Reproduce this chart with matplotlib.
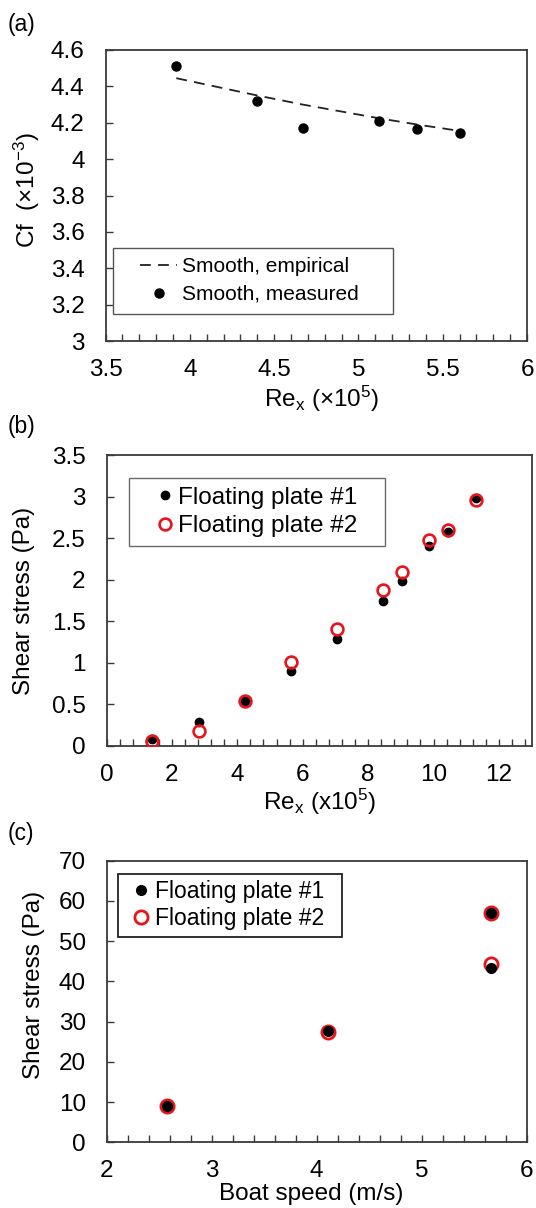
import matplotlib
matplotlib.use('Agg')
import matplotlib.pyplot as plt
from matplotlib.ticker import MultipleLocator
from matplotlib.patches import Rectangle

plt.rcParams['font.family'] = ['Liberation Sans', 'DejaVu Sans']
plt.rcParams['mathtext.fontset'] = 'custom'
plt.rcParams['mathtext.rm'] = 'Liberation Sans'
plt.rcParams['mathtext.it'] = 'Liberation Sans:italic'

# ---------------- data ----------------
# (a) skin friction coefficient vs Re_x
re_a = [3.92, 4.40, 4.67, 5.12, 5.35, 5.60]
cf_measured = [4.51, 4.32, 4.17, 4.21, 4.165, 4.145]
cf_empirical = [4.445, 4.35, 4.30, 4.225, 4.19, 4.155]

# (b) shear stress vs Re_x
re_b = [1.40, 2.82, 4.22, 5.65, 7.04, 8.46, 9.03, 9.87, 10.43, 11.29]
tau_b_plate1 = [0.077, 0.28, 0.54, 0.90, 1.29, 1.74, 1.98, 2.41, 2.57, 2.98]
tau_b_plate2 = [0.06, 0.18, 0.54, 1.01, 1.40, 1.87, 2.09, 2.48, 2.60, 2.96]

# (c) shear stress vs boat speed
boat_speed = [2.57, 4.11, 5.66, 5.66]
tau_c_plate1 = [9.0, 27.6, 57.1, 43.4]
tau_c_plate2 = [9.0, 27.5, 57.0, 44.4]

W, H = 536, 1208
fig = plt.figure(figsize=(W / 100, H / 100), dpi=100)

FS = 17.5
SPINE = '#3a3a3a'
RED = '#e8141c'


def fx(px):
    return px / W


def fy(py):
    return 1 - py / H


def box(l, t, r, b):
    return [l / W, 1 - b / H, (r - l) / W, (b - t) / H]


def style(ax, xmaj, xmin, ymaj):
    ax.xaxis.set_major_locator(MultipleLocator(xmaj))
    ax.xaxis.set_minor_locator(MultipleLocator(xmin))
    ax.yaxis.set_major_locator(MultipleLocator(ymaj))
    ax.tick_params(axis='x', which='both', direction='in', length=5, width=1,
                   color=SPINE, labelsize=FS, pad=13, top=False)
    ax.tick_params(axis='y', which='major', direction='in', length=5, width=1,
                   color=SPINE, labelsize=FS, pad=15, right=False)
    ax.tick_params(axis='y', which='minor', left=False)
    for s in ax.spines.values():
        s.set_color(SPINE)
        s.set_linewidth(1.3)


def frame(ax, l, t, r, b, color, lw):
    ax.add_patch(Rectangle((fx(l), fy(b)), (r - l) / W, (b - t) / H,
                           transform=fig.transFigure, fill=True,
                           facecolor='white', edgecolor=color, lw=lw,
                           zorder=5, clip_on=False))


# ---------------- (a) ----------------
ax1 = fig.add_axes(box(105.5, 50, 527, 341))
ax1.plot(re_a, cf_empirical, ls=(0, (6, 4)), color='#222222', lw=1.3,
         label='Smooth, empirical')
ax1.plot(re_a, cf_measured, 'o', color='black', ms=6.5, ls='none',
         label='Smooth, measured')
ax1.set_xlim(3.5, 6)
ax1.set_ylim(3, 4.6)
style(ax1, 0.5, 0.1, 0.2)
ax1.set_xticks([3.5, 4, 4.5, 5, 5.5, 6])
ax1.set_xticklabels(['3.5', '4', '4.5', '5', '5.5', '6'])
ax1.set_yticks([3, 3.2, 3.4, 3.6, 3.8, 4, 4.2, 4.4, 4.6])
ax1.set_yticklabels(['3', '3.2', '3.4', '3.6', '3.8', '4', '4.2', '4.4', '4.6'])
fig.text(fx(322), fy(407), 'Re$_\\mathregular{x}$ (×10$^\\mathregular{5}$)',
         fontsize=FS, ha='center', va='baseline')
fig.text(fx(27), fy(190), 'Cf  (×10$^\\mathregular{-3}$)', fontsize=FS,
         rotation=90, ha='center', va='center')
frame(ax1, 113.4, 248.3, 393.3, 314, '#555555', 1.0)
leg1 = ax1.legend(loc='center left', bbox_to_anchor=(fx(140), fy(280.5)),
                  bbox_transform=fig.transFigure, fontsize=15, frameon=False,
                  handlelength=1.78, handletextpad=0.24, labelspacing=0.42,
                  borderpad=0, borderaxespad=0)
leg1.set_zorder(6)

# ---------------- (b) ----------------
ax2 = fig.add_axes(box(106.5, 455, 531.7, 745.7))
ax2.plot(re_b, tau_b_plate1, 'o', color='black', ms=6.0, ls='none',
         label='Floating plate #1', zorder=3)
ax2.plot(re_b, tau_b_plate2, 'o', mfc='none', mec=RED, mew=1.9, ms=8.5,
         ls='none', label='Floating plate #2', zorder=4)
ax2.set_xlim(0, 13)
ax2.set_ylim(0, 3.5)
style(ax2, 2, 0.4, 0.5)
ax2.set_xticks([0, 2, 4, 6, 8, 10, 12])
ax2.set_xticklabels(['0', '2', '4', '6', '8', '10', '12'])
ax2.set_yticks([0, 0.5, 1, 1.5, 2, 2.5, 3, 3.5])
ax2.set_yticklabels(['0', '0.5', '1', '1.5', '2', '2.5', '3', '3.5'])
fig.text(fx(320), fy(810), 'Re$_\\mathregular{x}$ (x10$^\\mathregular{5}$)',
         fontsize=FS, ha='center', va='baseline')
fig.text(fx(24), fy(601), 'Shear stress (Pa)', fontsize=FS,
         rotation=90, ha='center', va='center')
frame(ax2, 128.9, 478, 384.6, 546, '#6a6a6a', 1.0)
leg2 = ax2.legend(loc='center left', bbox_to_anchor=(fx(155), fy(512)),
                  bbox_transform=fig.transFigure, fontsize=17.5, frameon=False,
                  handlelength=0.8, handletextpad=0.15, labelspacing=0.25,
                  borderpad=0, borderaxespad=0)
leg2.set_zorder(6)

# ---------------- (c) ----------------
ax3 = fig.add_axes(box(106.8, 860.7, 526.7, 1142.3))
ax3.plot(boat_speed, tau_c_plate1, 'o', color='black', ms=7, ls='none',
         label='Floating plate #1', zorder=3)
ax3.plot(boat_speed, tau_c_plate2, 'o', mfc='none', mec=RED, mew=2.0, ms=9.5,
         ls='none', label='Floating plate #2', zorder=2)
ax3.set_xlim(2, 6)
ax3.set_ylim(0, 70)
style(ax3, 1, 0.2, 10)
fig.text(fx(311), fy(1200), 'Boat speed (m/s)', fontsize=FS,
         ha='center', va='baseline')
fig.text(fx(34.5), fy(985), 'Shear stress (Pa)', fontsize=FS,
         rotation=90, ha='center', va='center')
frame(ax3, 117.5, 873.7, 342.3, 937.3, '#222222', 1.3)
leg3 = ax3.legend(loc='center left', bbox_to_anchor=(fx(132.3), fy(905)),
                  bbox_transform=fig.transFigure, fontsize=16.5, frameon=False,
                  handlelength=0.8, handletextpad=0.17, labelspacing=0.15,
                  borderpad=0, borderaxespad=0)
leg3.set_zorder(6)

# panel labels
fig.text(fx(8), fy(13), '(a)', fontsize=16.5, va='top', ha='left')
fig.text(fx(8), fy(415), '(b)', fontsize=16.5, va='top', ha='left')
fig.text(fx(8), fy(822), '(c)', fontsize=16.5, va='top', ha='left')

fig.savefig('out.png', dpi=100)
